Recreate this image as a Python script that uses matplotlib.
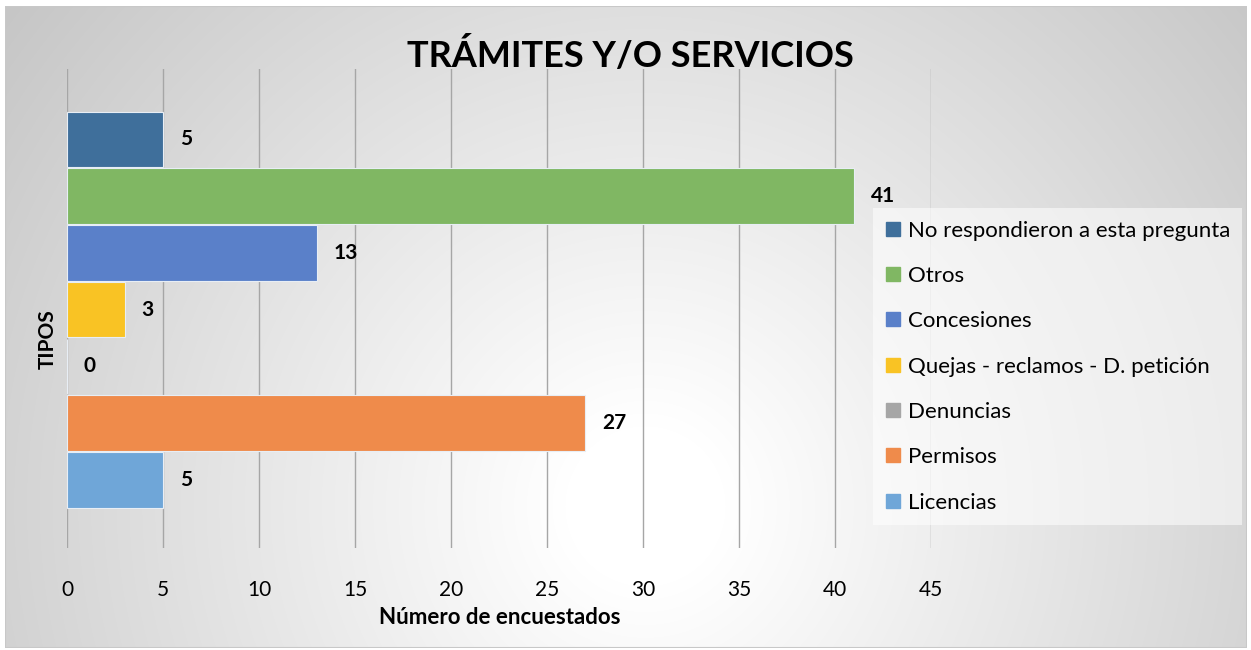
import numpy as np
import matplotlib
matplotlib.use('Agg')
import matplotlib.pyplot as plt
from matplotlib.patches import Rectangle
from matplotlib.lines import Line2D

plt.rcParams['font.family'] = ['Lato', 'DejaVu Sans']

tipos = ['No respondieron a esta pregunta', 'Otros', 'Concesiones',
         'Quejas - reclamos - D. petición', 'Denuncias', 'Permisos', 'Licencias']
valores = [5, 41, 13, 3, 0, 27, 5]
colores = ['#3F6F9B', '#80B763', '#5A80C9', '#F9C324', '#A6A6A6', '#EF8B4B', '#6FA6D8']
ticks_x = [0, 5, 10, 15, 20, 25, 30, 35, 40, 45]

W, H = 1251, 650
fig = plt.figure(figsize=(W / 100, H / 100), dpi=100)
fig.patch.set_facecolor('white')

# fondo con degradado radial
bg = fig.add_axes([5 / W, 2 / H, 1242 / W, 642 / H], zorder=-10)
yy, xx = np.mgrid[0:642, 0:1242]
d = np.sqrt((xx - 640) ** 2 + (yy - 500) ** 2)
g = np.clip(255 - 0.078 * np.maximum(d - 80, 0), 0, 255) / 255
bg.imshow(np.dstack([g, g, g]), aspect='auto', extent=[0, 1, 0, 1], origin='upper')
bg.add_patch(Rectangle((0, 0), 1, 1, fill=False, edgecolor='#c8c8c8', lw=1.5,
                       transform=bg.transAxes))
bg.set_axis_off()

ax = fig.add_axes([67 / W, 1 - 548 / H, (931 - 67) / W, (548 - 69) / H])
ax.patch.set_alpha(0)

pos = np.arange(len(tipos))[::-1]
ax.barh(pos, valores, height=0.98, color=colores, edgecolor='#e8eef5', linewidth=0.8, zorder=3)
for p, v in zip(pos, valores):
    ax.annotate(str(v), (v, p), xytext=(12, 0), textcoords='offset points',
                ha='left', va='center', fontsize=15, fontweight='bold', color='black')

ax.set_xlim(0, 45)
ax.set_ylim(-1.2, 7.24)
ax.set_xticks(ticks_x)
ax.set_yticks([])
ax.grid(axis='x', color='#a6a6a6', linewidth=1, zorder=0)
ax.tick_params(axis='x', length=0, pad=23, labelsize=15, colors='black')
for s in ax.spines.values():
    s.set_visible(False)

fig.text(630 / W, 1 - 55 / H, 'TRÁMITES Y/O SERVICIOS', ha='center', va='center',
         fontsize=26, fontweight='bold')
fig.text(500 / W, 1 - 618 / H, 'Número de encuestados', ha='center', va='center',
         fontsize=16, fontweight='bold')
fig.text(48 / W, 1 - 339 / H, 'TIPOS', ha='center', va='center', rotation=90,
         fontsize=15, fontweight='bold')

handles = [Line2D([], [], marker='s', linestyle='none', markersize=9.5,
                  markerfacecolor=c, markeredgecolor=c) for c in colores]
leg = fig.legend(handles, tipos, loc='upper left', bbox_to_anchor=(880 / W, 1 - 215 / H),
                 frameon=True, fontsize=16, handlelength=0.7, handletextpad=0.3,
                 labelspacing=1.14, borderpad=0.25, borderaxespad=0)
leg.get_frame().set_facecolor('white')
leg.get_frame().set_alpha(0.55)
leg.get_frame().set_edgecolor('none')
leg.get_frame().set_boxstyle('square')

fig.savefig('out.png', dpi=100)
